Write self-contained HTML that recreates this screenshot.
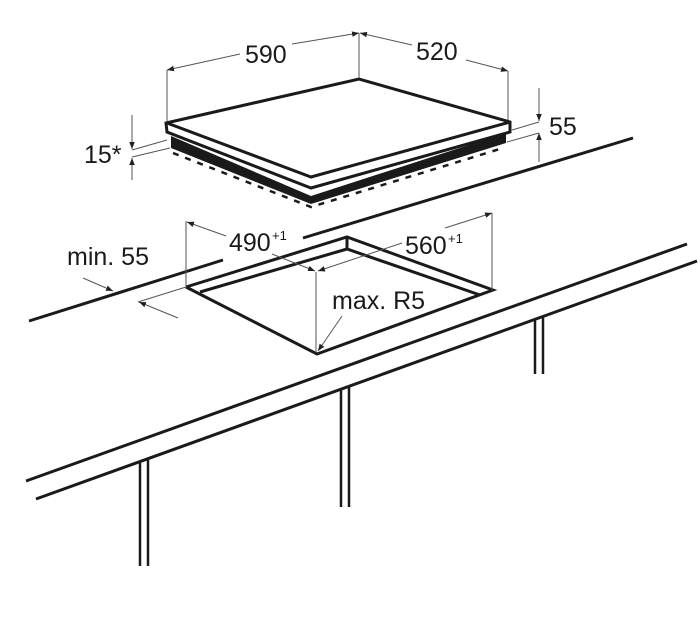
<!DOCTYPE html>
<html><head><style>
html,body{margin:0;padding:0;background:#fff;}
svg{display:block;}
text{font-family:"Liberation Sans",Arial,sans-serif;fill:#1a1a1a;}
</style></head><body>
<svg width="700" height="628" viewBox="0 0 700 628" xmlns="http://www.w3.org/2000/svg">
<defs>
<marker id="a" viewBox="0 0 10 10" refX="10" refY="5" markerWidth="7" markerHeight="7" orient="auto-start-reverse" markerUnits="userSpaceOnUse">
<path d="M0,1 L10,5 L0,9 z" fill="#222"/></marker>
</defs>
<!-- countertop -->
<g stroke="#1a1a1a" stroke-width="3" fill="none" stroke-linecap="butt">
<line x1="29" y1="321" x2="223" y2="260"/>
<line x1="303" y1="238" x2="633" y2="138"/>
<line x1="26" y1="481" x2="687" y2="244"/>
<line x1="36" y1="499" x2="697" y2="261"/>
<!-- cutout -->
<polyline points="186,287 347,237 493,290 317,354 186,287" stroke-linejoin="miter"/>
<polyline points="200,292 347,249 480,295"/>
<line x1="347" y1="237" x2="347" y2="249"/>
</g>
<!-- legs -->
<g stroke="#1a1a1a" stroke-width="2.5">
<line x1="140" y1="463" x2="140" y2="566"/><line x1="148" y1="460" x2="148" y2="566"/>
<line x1="341" y1="390" x2="341" y2="507"/><line x1="349" y1="387" x2="349" y2="507"/>
<line x1="535" y1="320" x2="535" y2="374"/><line x1="543" y1="317" x2="543" y2="374"/>
</g>
<!-- hob -->
<polygon points="171,136 311,196 506,133 506,143 311,204 171,148" fill="#1a1a1a"/>
<polygon points="166,123 359,79 510,122 510,132 311,188 167,132" fill="#fff" stroke="#1a1a1a" stroke-width="3" stroke-linejoin="miter"/>
<polyline points="167,123 311,177 510,122" fill="none" stroke="#1a1a1a" stroke-width="3"/>
<polyline points="173,153 311,207 503,148" fill="none" stroke="#1a1a1a" stroke-width="2.5" stroke-dasharray="6,7"/>
<!-- dimension lines -->
<g stroke="#555" stroke-width="1" fill="none">
<line x1="167" y1="70" x2="167" y2="121"/>
<line x1="359" y1="33" x2="359" y2="78"/>
<line x1="508" y1="71" x2="508" y2="120"/>
<line x1="240" y1="54" x2="167" y2="70" marker-end="url(#a)"/>
<line x1="292" y1="44" x2="359" y2="33" marker-end="url(#a)"/>
<line x1="412" y1="45" x2="360" y2="33" marker-end="url(#a)"/>
<line x1="466" y1="60" x2="508" y2="71" marker-end="url(#a)"/>
<line x1="539" y1="88" x2="539" y2="121" marker-end="url(#a)"/>
<line x1="539" y1="162" x2="539" y2="133" marker-end="url(#a)"/>
<line x1="512" y1="130" x2="539" y2="122"/>
<line x1="507" y1="142" x2="539" y2="133"/>
<line x1="132" y1="115" x2="132" y2="149" marker-end="url(#a)"/>
<line x1="132" y1="180" x2="132" y2="158" marker-end="url(#a)"/>
<line x1="132" y1="150" x2="167" y2="140"/>
<line x1="132" y1="157" x2="170" y2="148"/>
<!-- cutout dims -->
<line x1="186" y1="221" x2="186" y2="287"/>
<line x1="226" y1="236" x2="187" y2="222" marker-end="url(#a)"/>
<line x1="272" y1="254" x2="315" y2="271" marker-end="url(#a)"/>
<line x1="316" y1="272" x2="316" y2="352"/>
<line x1="402" y1="243" x2="318" y2="271" marker-end="url(#a)"/>
<line x1="445" y1="228" x2="492" y2="213" marker-end="url(#a)"/>
<line x1="492" y1="213" x2="492" y2="290"/>
<line x1="342" y1="316" x2="318" y2="351" marker-end="url(#a)"/>
<line x1="83" y1="278" x2="113" y2="291" marker-end="url(#a)"/>
<line x1="186" y1="287" x2="138" y2="302"/>
<line x1="178" y1="318" x2="139" y2="302" marker-end="url(#a)"/>
</g>
<!-- labels -->
<g font-size="25">
<text x="245" y="63">590</text>
<text x="416" y="60">520</text>
<text x="549" y="135">55</text>
<text x="84" y="163">15*</text>
<text x="67" y="265">min. 55</text>
<text x="229" y="251">490</text><text x="272" y="240" font-size="13">+1</text>
<text x="405" y="254">560</text><text x="448" y="243" font-size="13">+1</text>
<text x="332" y="309">max. R5</text>
</g>
</svg>
</body></html>
